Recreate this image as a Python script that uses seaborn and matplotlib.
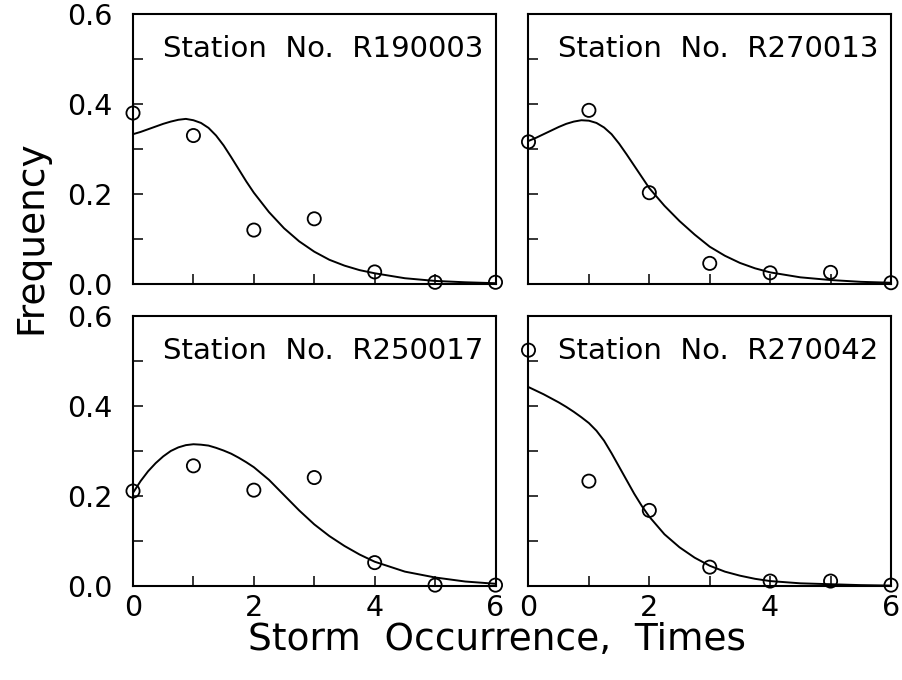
#%%
import numpy as np
import pandas as pd
import seaborn as sns
import matplotlib.pyplot as plt

#%% Data
occurrence = [0, 1, 2, 3, 4, 5, 6]

# observed frequencies (circles)
obs_r190003 = [0.380, 0.330, 0.120, 0.145, 0.027, 0.004, 0.004]
obs_r270013 = [0.316, 0.386, 0.203, 0.046, 0.025, 0.026, 0.003]
obs_r250017 = [0.211, 0.267, 0.213, 0.241, 0.052, 0.002, 0.002]
obs_r270042 = [0.524, 0.233, 0.168, 0.042, 0.011, 0.011, 0.002]

# fitted curves, digitised along x
curve_x = [0, 0.125, 0.25, 0.375, 0.5, 0.625, 0.75, 0.875, 1, 1.125, 1.25,
           1.375, 1.5, 1.625, 1.75, 1.875, 2, 2.25, 2.5, 2.75, 3, 3.25, 3.5,
           3.75, 4, 4.5, 5, 5.5, 6]
fit_r190003 = [0.333, 0.338, 0.344, 0.350, 0.356, 0.361, 0.365, 0.367, 0.364,
               0.358, 0.347, 0.330, 0.308, 0.282, 0.255, 0.228, 0.203, 0.160,
               0.124, 0.095, 0.072, 0.054, 0.041, 0.031, 0.024, 0.013, 0.007,
               0.004, 0.002]
fit_r270013 = [0.318, 0.325, 0.333, 0.341, 0.349, 0.356, 0.361, 0.364, 0.363,
               0.358, 0.348, 0.333, 0.312, 0.288, 0.263, 0.238, 0.213, 0.174,
               0.140, 0.110, 0.083, 0.063, 0.047, 0.035, 0.026, 0.015, 0.009,
               0.005, 0.003]
fit_r250017 = [0.207, 0.233, 0.255, 0.273, 0.288, 0.300, 0.308, 0.313, 0.315,
               0.314, 0.312, 0.307, 0.301, 0.294, 0.285, 0.275, 0.264, 0.236,
               0.202, 0.168, 0.137, 0.111, 0.089, 0.070, 0.054, 0.032, 0.019,
               0.010, 0.005]
fit_r270042 = [0.442, 0.434, 0.426, 0.417, 0.408, 0.398, 0.387, 0.375, 0.362,
               0.345, 0.323, 0.295, 0.265, 0.235, 0.205, 0.178, 0.154, 0.115,
               0.086, 0.063, 0.045, 0.032, 0.023, 0.016, 0.011, 0.006, 0.004,
               0.002, 0.001]

stations = ["R190003", "R270013", "R250017", "R270042"]
observed = [obs_r190003, obs_r270013, obs_r250017, obs_r270042]
fitted = [fit_r190003, fit_r270013, fit_r250017, fit_r270042]

y_ticks = [0, 0.1, 0.2, 0.3, 0.4, 0.5, 0.6]
y_ticklabels = ["0.0", "", "0.2", "", "0.4", "", "0.6"]
x_ticklabels = ["0", "", "2", "", "4", "", "6"]

#%% Style
sns.set_style("ticks", {"xtick.direction": "in", "ytick.direction": "in"})
plt.rcParams["font.family"] = ["DejaVu Sans"]
plt.rcParams["text.color"] = "black"

fig, axes = plt.subplots(2, 2, figsize=(9.03, 6.80), dpi=100)
fig.subplots_adjust(left=0.1473, right=0.9867, top=0.9794, bottom=0.1382,
                    wspace=0.091, hspace=0.118)

#%% Panels
for i, ax in enumerate(axes.flat):
    row, col = divmod(i, 2)
    sns.lineplot(x=curve_x, y=fitted[i], ax=ax, color="black",
                 linewidth=1.4, estimator=None, solid_joinstyle="round")
    sns.scatterplot(x=occurrence, y=observed[i], ax=ax, marker="o", s=90,
                    facecolor="none", edgecolor="black", linewidth=1.3,
                    clip_on=False, zorder=3)

    ax.set_xlim(0, 6)
    ax.set_ylim(0, 0.6)
    ax.set_xticks(occurrence)
    ax.set_yticks(y_ticks)
    ax.set_xticklabels(x_ticklabels if row == 1 else [""] * 7)
    ax.set_yticklabels(y_ticklabels if col == 0 else [""] * 7)
    ax.tick_params(axis="both", length=7, width=1.1, labelsize=20.5,
                   color="black", labelcolor="black",
                   top=False, right=False)
    ax.tick_params(axis="y", pad=15)
    ax.tick_params(axis="x", pad=6)
    for sp in ax.spines.values():
        sp.set_visible(True)
        sp.set_color("black")
        sp.set_linewidth(1.5)
    ax.set_xlabel("")
    ax.set_ylabel("")
    ax.text(0.966, 0.87, "Station  No.  " + stations[i], transform=ax.transAxes,
            ha="right", va="center", fontsize=21, color="black")

#%% Shared labels
fig.text(0.035, 1 - 237 / 680, "Frequency", rotation=90, ha="center",
         va="center", fontsize=27, color="black")
fig.text(497 / 903, 1 - 640 / 680, "Storm  Occurrence,  Times", ha="center",
         va="center", fontsize=27, color="black")

fig.savefig("out.png", dpi=100)
